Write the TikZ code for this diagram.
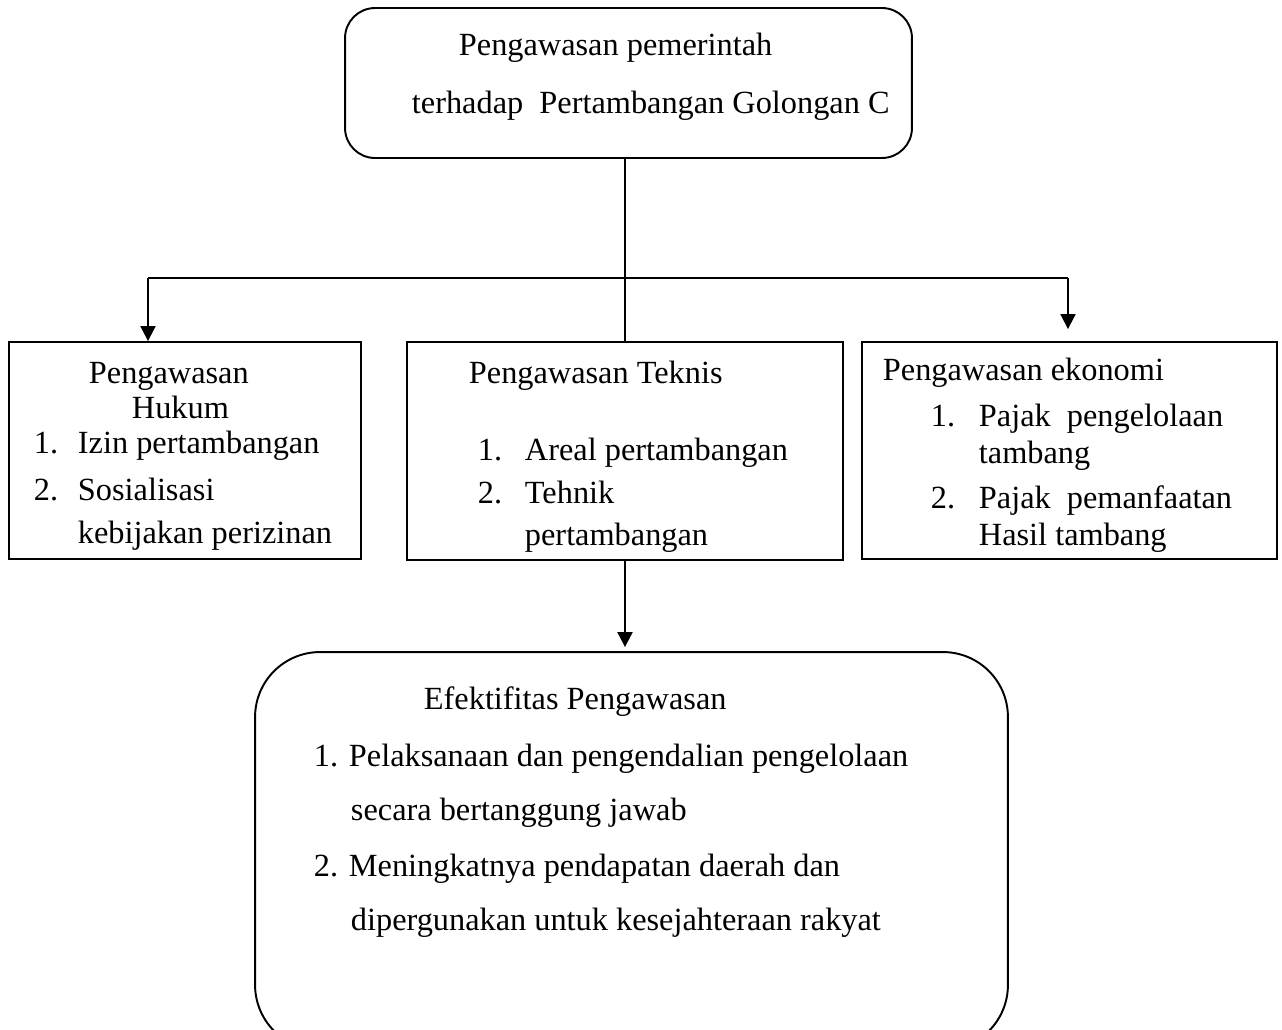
\documentclass[tikz,border=0pt]{standalone}
\usepackage{fontspec}
\setmainfont{Liberation Serif}
\usetikzlibrary{arrows.meta}

\begin{document}
\begin{tikzpicture}[x=0.02cm,y=-0.02cm,line width=1.1pt,
      box/.style={draw,inner sep=0pt},
      txt/.style={anchor=base west,inner sep=0pt,font=\fontsize{18.4}{22}\selectfont},
      arr/.style={-{Triangle[length=0.3cm,width=0.3cm]}}]
    \useasboundingbox (0,0) rectangle (1282,1029);
    % boxes
    \node[box,rounded corners=0.6cm,minimum width=11.34cm,minimum height=3cm] (atas) at (628.5,83) {};
    \node[box,minimum width=7.04cm,minimum height=4.34cm] (hukum) at (185,450.5) {};
    \node[box,minimum width=8.72cm,minimum height=4.36cm] (teknis) at (625,451) {};
    \node[box,minimum width=8.3cm,minimum height=4.34cm] (ekonomi) at (1069.5,450.5) {};
    \node[box,rounded corners=1.3cm,minimum width=15.06cm,minimum height=7.96cm] (efek) at (631.5,851) {};
    % texts
    \node[txt] (a1) at (458,55) {Pengawasan pemerintah};
    \node[txt] (a2) at (411,113) {terhadap~ Pertambangan Golongan C};
    \node[txt] (h1) at (88,383) {Pengawasan};
    \node[txt] (h2) at (131,418) {Hukum};
    \node[txt] (h3) at (33,453) {1.};
    \node[txt] (h4) at (77,453) {Izin pertambangan};
    \node[txt] (h5) at (33,500) {2.};
    \node[txt] (h6) at (77,500) {Sosialisasi};
    \node[txt] (h7) at (77,543) {kebijakan perizinan};
    \node[txt] (k1) at (468,383) {Pengawasan Teknis};
    \node[txt] (k2) at (477,460) {1.};
    \node[txt] (k3) at (524,460) {Areal pertambangan};
    \node[txt] (k4) at (477,503) {2.};
    \node[txt] (k5) at (524,503) {Tehnik};
    \node[txt] (k6) at (524,545) {pertambangan};
    \node[txt] (e1) at (882,380) {Pengawasan ekonomi};
    \node[txt] (e2) at (930,426) {1.};
    \node[txt] (e3) at (978,426) {Pajak~ pengelolaan};
    \node[txt] (e4) at (978,463) {tambang};
    \node[txt] (e5) at (930,508) {2.};
    \node[txt] (e6) at (978,508) {Pajak~ pemanfaatan};
    \node[txt] (e7) at (978,545) {Hasil tambang};
    \node[txt] (f1) at (423,709) {Efektifitas Pengawasan};
    \node[txt] (f2) at (313,766) {1. Pelaksanaan dan pengendalian pengelolaan};
    \node[txt] (f3) at (350,820) {secara bertanggung jawab};
    \node[txt] (f4) at (313,876) {2. Meningkatnya pendapatan daerah dan};
    \node[txt] (f5) at (350,930) {dipergunakan untuk kesejahteraan rakyat};
    % connectors
    \coordinate (jl) at (148,278);
    \coordinate (jr) at (1068,278);
    \draw (atas.south -| teknis.north) -- (teknis.north);
    \draw (jl) -- (jr);
    \draw[arr] (jl) -- (jl |- hukum.north);
    \draw[arr,shorten >=0.24cm] (jr) -- (jr |- ekonomi.north);
    \draw[arr,shorten >=0.08cm] (teknis.south) -- (teknis.south |- efek.north);
  \end{tikzpicture}
\end{document}
